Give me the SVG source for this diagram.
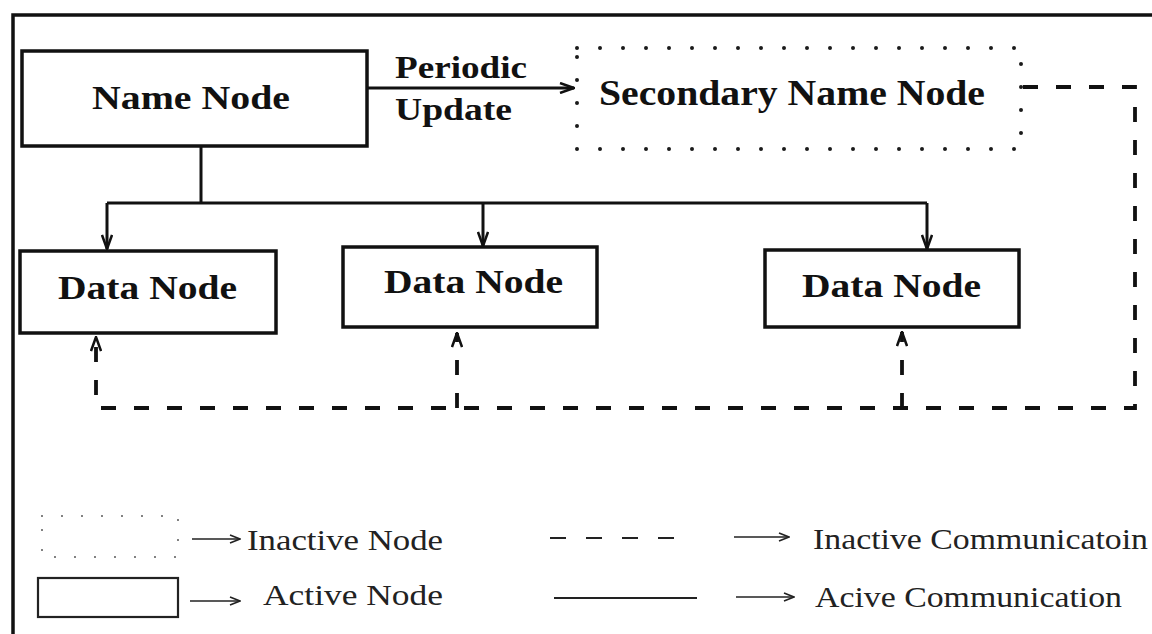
<svg xmlns="http://www.w3.org/2000/svg" width="1152" height="634" viewBox="0 0 1152 634">
<style>
.frame{fill:none;stroke:#111;stroke-width:3.5}
.box{fill:#fff;stroke:#111;stroke-width:3.5}
.dotbox{fill:none;stroke:#1a1a1a;stroke-width:4;stroke-linecap:round;stroke-dasharray:0 23}
.ln{fill:none;stroke:#111;stroke-width:3}
.dash{fill:none;stroke:#111;stroke-width:3.8;stroke-dasharray:15 18}
.b{font-family:"Liberation Serif","Times New Roman",serif;font-weight:bold;fill:#111}
.r{font-family:"Liberation Serif","Times New Roman",serif;font-weight:normal;fill:#222}
.leg{fill:none;stroke:#222;stroke-width:1.6}
</style>
<defs>
<marker id="arr" viewBox="0 0 16 12" refX="15" refY="6" markerWidth="16" markerHeight="12" markerUnits="userSpaceOnUse" orient="auto">
<path d="M1,1 L15,6 L1,11" fill="none" stroke="#111" stroke-width="2.5" stroke-dasharray="none"/>
</marker>
<marker id="arrs" viewBox="0 0 12 10" refX="11" refY="5" markerWidth="12" markerHeight="10" markerUnits="userSpaceOnUse" orient="auto">
<path d="M1,1 L11,5 L1,9" fill="none" stroke="#222" stroke-width="1.6"/>
</marker>
</defs>
<rect width="1152" height="634" fill="#fff"/>
<path class="frame" d="M13,640 V15 H1160"/>

<g id="connectors">
<path class="ln" d="M366,88 H574" marker-end="url(#arr)"/>
<path class="ln" d="M201,146 V203"/>
<path class="ln" d="M107,203 H927"/>
<path class="ln" d="M107,203 V249" marker-end="url(#arr)"/>
<path class="ln" d="M483,203 V246" marker-end="url(#arr)"/>
<path class="ln" d="M927,203 V249" marker-end="url(#arr)"/>
<path class="dash" d="M1023,87 H1135 V408 H96 V337" marker-end="url(#arr)"/>
<path class="dash" d="M457,408 V333" marker-end="url(#arr)"/>
<path class="dash" d="M902,408 V332" marker-end="url(#arr)"/>
</g>

<g id="name-node">
<rect class="box" x="22" y="51" width="345" height="95"/>
<text class="b" x="92" y="109" font-size="34" textLength="198" lengthAdjust="spacingAndGlyphs">Name Node</text>
</g>
<g id="periodic-label">
<text class="b" x="395" y="78" font-size="31" textLength="132" lengthAdjust="spacingAndGlyphs">Periodic</text>
<text class="b" x="395" y="120" font-size="31" textLength="117" lengthAdjust="spacingAndGlyphs">Update</text>
</g>
<g id="secondary-name-node">
<rect class="dotbox" x="577" y="48" width="444" height="101"/>
<text class="b" x="599" y="105" font-size="35" textLength="386" lengthAdjust="spacingAndGlyphs">Secondary Name Node</text>
</g>
<g id="data-node-1">
<rect class="box" x="20" y="251" width="256" height="82"/>
<text class="b" x="58" y="299" font-size="34" textLength="179" lengthAdjust="spacingAndGlyphs">Data Node</text>
</g>
<g id="data-node-2">
<rect class="box" x="343" y="247" width="254" height="80"/>
<text class="b" x="384" y="293" font-size="34" textLength="179" lengthAdjust="spacingAndGlyphs">Data Node</text>
</g>
<g id="data-node-3">
<rect class="box" x="765" y="250" width="254" height="77"/>
<text class="b" x="802" y="297" font-size="34" textLength="179" lengthAdjust="spacingAndGlyphs">Data Node</text>
</g>

<g id="legend">
<rect x="42" y="516" width="136" height="41" fill="none" stroke="#666" stroke-width="2.2" stroke-linecap="round" stroke-dasharray="0 20"/>
<path class="leg" d="M192,539 H240" marker-end="url(#arrs)"/>
<text class="r" x="247" y="550" font-size="30" textLength="196" lengthAdjust="spacingAndGlyphs">Inactive Node</text>
<rect x="38" y="578" width="140" height="39" fill="none" stroke="#222" stroke-width="2.2"/>
<path class="leg" d="M190,601 H240" marker-end="url(#arrs)"/>
<text class="r" x="263" y="605" font-size="30" textLength="180" lengthAdjust="spacingAndGlyphs">Active Node</text>
<path d="M550,538 H678" fill="none" stroke="#222" stroke-width="2" stroke-dasharray="16 20"/>
<path class="leg" d="M734,537 H789" marker-end="url(#arrs)"/>
<text class="r" x="813" y="549" font-size="30" textLength="335" lengthAdjust="spacingAndGlyphs">Inactive Communicatoin</text>
<path d="M554,598 H697" fill="none" stroke="#222" stroke-width="2"/>
<path class="leg" d="M736,597 H794" marker-end="url(#arrs)"/>
<text class="r" x="815" y="607" font-size="30" textLength="307" lengthAdjust="spacingAndGlyphs">Acive Communication</text>
</g>
</svg>
